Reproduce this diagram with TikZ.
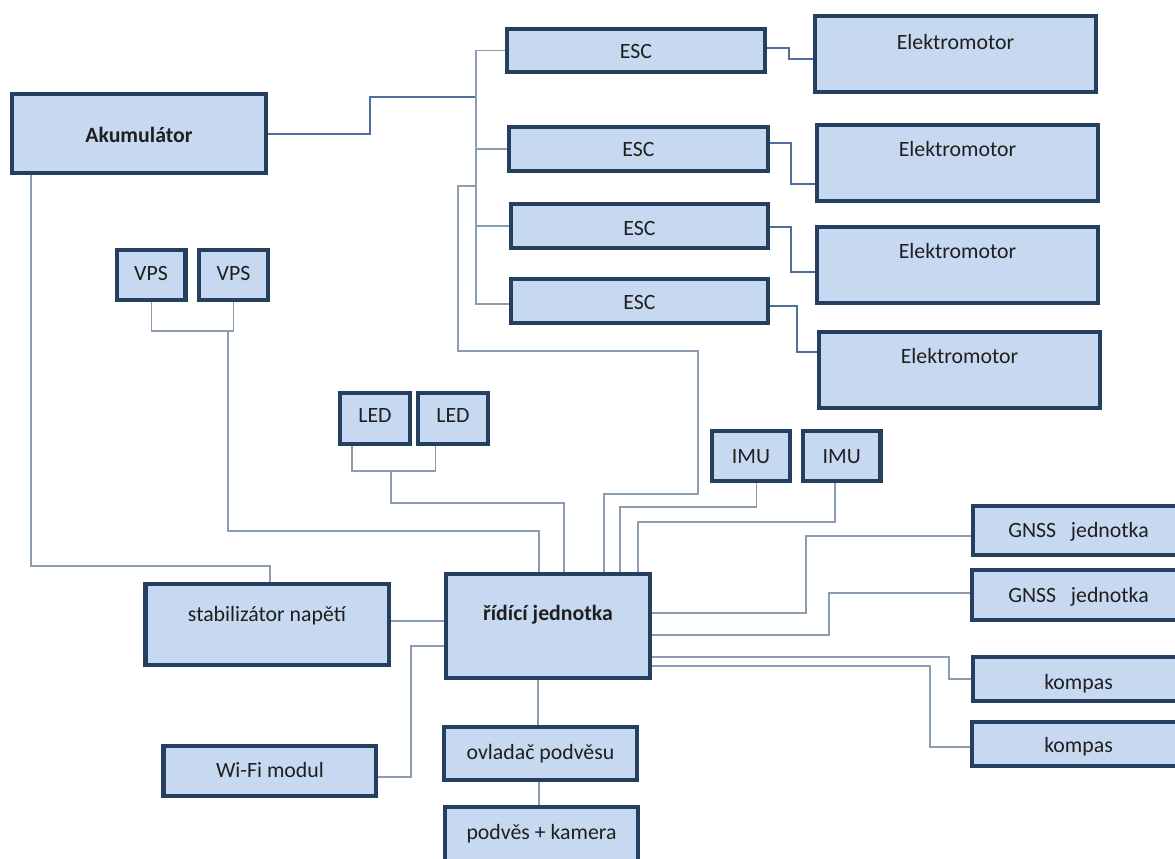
\documentclass[tikz,border=0pt]{standalone}
\usepackage{fontspec}
\setmainfont{Carlito}
\usetikzlibrary{fit,backgrounds}
\definecolor{boxfill}{HTML}{C6D9F1}
\definecolor{boxline}{HTML}{243F60}
\definecolor{wirecol}{HTML}{8C9DB2}
\definecolor{pwirecol}{HTML}{4F6E9C}
\definecolor{txtcol}{HTML}{1F1F1F}
\begin{document}
\begin{tikzpicture}[x=1pt,y=-1pt,
  blk/.style={draw=boxline, fill=boxfill, line width=4.5pt, inner sep=0pt},
  txt/.style={anchor=base, inner sep=0pt, text=txtcol, font=\fontsize{21.8}{26}\selectfont},
  btxt/.style={txt, font=\fontsize{21.8}{26}\selectfont\bfseries},
  wire/.style={draw=wirecol, line width=1.5pt},
  pwire/.style={draw=pwirecol, line width=2pt}]
\useasboundingbox (0,0) rectangle (1175,859);
\clip (0,0) rectangle (1175,859);

% boxes
\node[blk, fit={(12,94) (266,173)}] (akku) {};
\node[blk, fit={(507,29) (765,72)}] (esc1) {};
\node[blk, fit={(509,127) (768,171)}] (esc2) {};
\node[blk, fit={(511,204) (768,248)}] (esc3) {};
\node[blk, fit={(511,279) (768,323)}] (esc4) {};
\node[blk, fit={(815,16) (1096,92)}] (mot1) {};
\node[blk, fit={(817,125) (1098,201)}] (mot2) {};
\node[blk, fit={(817,227) (1098,303)}] (mot3) {};
\node[blk, fit={(819,332) (1100,408)}] (mot4) {};
\node[blk, fit={(117,250) (185.5,300)}] (vps1) {};
\node[blk, fit={(199,250) (268,300)}] (vps2) {};
\node[blk, fit={(340,393) (410,444)}] (led1) {};
\node[blk, fit={(418,393) (488,444)}] (led2) {};
\node[blk, fit={(712,431) (790,481)}] (imu1) {};
\node[blk, fit={(803,431) (880.5,481)}] (imu2) {};
\node[blk, fit={(145.5,584) (389,665)}] (stab) {};
\node[blk, fit={(446,574) (650,678)}] (rj) {};
\node[blk, fit={(163.5,746) (376,796)}] (wifi) {};
\node[blk, fit={(444,727) (637,780)}] (ovl) {};
\node[blk, fit={(445,807) (638,890)}] (podv) {};
\node[blk, fit={(973,506) (1186,555)}] (gnss1) {};
\node[blk, fit={(972,570) (1186,620)}] (gnss2) {};
\node[blk, fit={(973,657) (1186,701)}] (komp1) {};
\node[blk, fit={(972,722) (1186,766)}] (komp2) {};

% texts
\node[btxt] (akkut) at (139,135+7) {Akumulátor};
\node[txt] (esc1t) at (636,52+7) {ESC};
\node[txt] (esc2t) at (638.5,149+7) {ESC};
\node[txt] (esc3t) at (639.5,228+7) {ESC};
\node[txt] (esc4t) at (639.5,302+7) {ESC};
\node[txt] (mot1t) at (955.5,43+7) {Elektromotor};
\node[txt] (mot2t) at (957.5,149+7) {Elektromotor};
\node[txt] (mot3t) at (957.5,251+7) {Elektromotor};
\node[txt] (mot4t) at (959.5,356+7) {Elektromotor};
\node[txt] (vps1t) at (151,273+7) {VPS};
\node[txt] (vps2t) at (233.5,273+7) {VPS};
\node[txt] (led1t) at (375,415+7) {LED};
\node[txt] (led2t) at (453,415+7) {LED};
\node[txt] (imu1t) at (751,456+7) {IMU};
\node[txt] (imu2t) at (841.75,456+7) {IMU};
\node[txt] (stabt) at (267,614+7) {stabilizátor napětí};
\node[btxt] (rjt) at (548,613+7) {řídící jednotka};
\node[txt] (wifit) at (270,770+7) {Wi-Fi modul};
\node[txt] (ovlt) at (540.5,752+7) {ovladač podvěsu};
\node[txt] (podvt) at (541.5,832+7) {podvěs + kamera};
\node[txt] (gnss1t) at (1078.5,530+7) {GNSS\ \ \ jednotka};
\node[txt] (gnss2t) at (1078.5,595+7) {GNSS\ \ \ jednotka};
\node[txt] (komp1t) at (1078.5,682+7) {kompas};
\node[txt] (komp2t) at (1078.5,745+7) {kompas};

\begin{scope}[on background layer]
\fill[white] (0,0) rectangle (1175,859);
% power to ESC trunk
\coordinate (tj) at (476,97);
\coordinate (tj2) at (476,186);
\draw[pwire] (akku.east) -| (370,97) -- (tj);
\draw[wire] (esc1.west) -| (tj);
\draw[wire] (esc2.west) -| (tj);
\draw[wire] (esc3.west) -| (tj);
\draw[wire] ([yshift=-3pt]esc4.west) -| (tj);
\draw[wire] (tj2) -- (458,186) -- (458,351) -- (698,351) -- (698,494) -| ([xshift=56pt]rj.north);
% ESC to motors
\draw[pwire] ([yshift=2.5pt]esc1.east) -| (789,54) |- ([yshift=-5pt]mot1.west);
\draw[pwire] ([yshift=6pt]esc2.east) -| (791,160) |- ([yshift=-21pt]mot2.west);
\draw[pwire] ([yshift=-1pt]esc3.east) -| (791,250) |- ([yshift=-7pt]mot3.west);
\draw[pwire] ([yshift=-5pt]esc4.east) -| (797,330) |- ([yshift=18pt]mot4.west);
% VPS
\coordinate (vb) at (228,331);
\draw[wire] (vps1.south) |- (vb);
\draw[wire] (vps2.south) |- (vb);
\draw[wire] (vb) -- (228,531) -| ([xshift=-9pt]rj.north);
% LED
\coordinate (lb) at (391,471);
\draw[wire] ([xshift=-23pt]led1.south) |- (435.5,471) -- ([xshift=-17.5pt]led2.south);
\draw[wire] (lb) -- (391,503) -| ([xshift=16pt]rj.north);
% IMU
\draw[wire] ([xshift=5.5pt]imu1.south) |- (620,507) -- ([xshift=72pt]rj.north);
\draw[wire] ([xshift=-7pt]imu2.south) |- (638,522) -- ([xshift=90pt]rj.north);
% right side
\draw[wire] ([yshift=13pt]rj.east) -| (806,570) |- ([yshift=-5.5pt]gnss1.west);
\draw[wire] ([yshift=-9pt]rj.east) -| (829,610) |- ([yshift=2pt]gnss2.west);
\draw[wire] ([yshift=-31pt]rj.east) -| (949,670) |- (komp1.west);
\draw[wire] ([yshift=-40pt]rj.east) -| (930,700) |- ([yshift=-3pt]komp2.west);
% left side
\draw[wire] ([xshift=-108pt]akku.south) |- (150,566) -| ([xshift=2.75pt]stab.north);
\draw[wire] ([yshift=3.5pt]stab.east) -- ([yshift=5pt]rj.west);
\draw[wire] ([yshift=-20pt]rj.west) -| (411,700) |- ([yshift=-6pt]wifi.east);
% bottom
\draw[wire] ([xshift=-10pt]rj.south) -- ([xshift=-2.5pt]ovl.north);
\draw[wire] ([xshift=-1.5pt]ovl.south) -- ([xshift=-2.5pt]podv.north);
\end{scope}
\end{tikzpicture}
\end{document}
